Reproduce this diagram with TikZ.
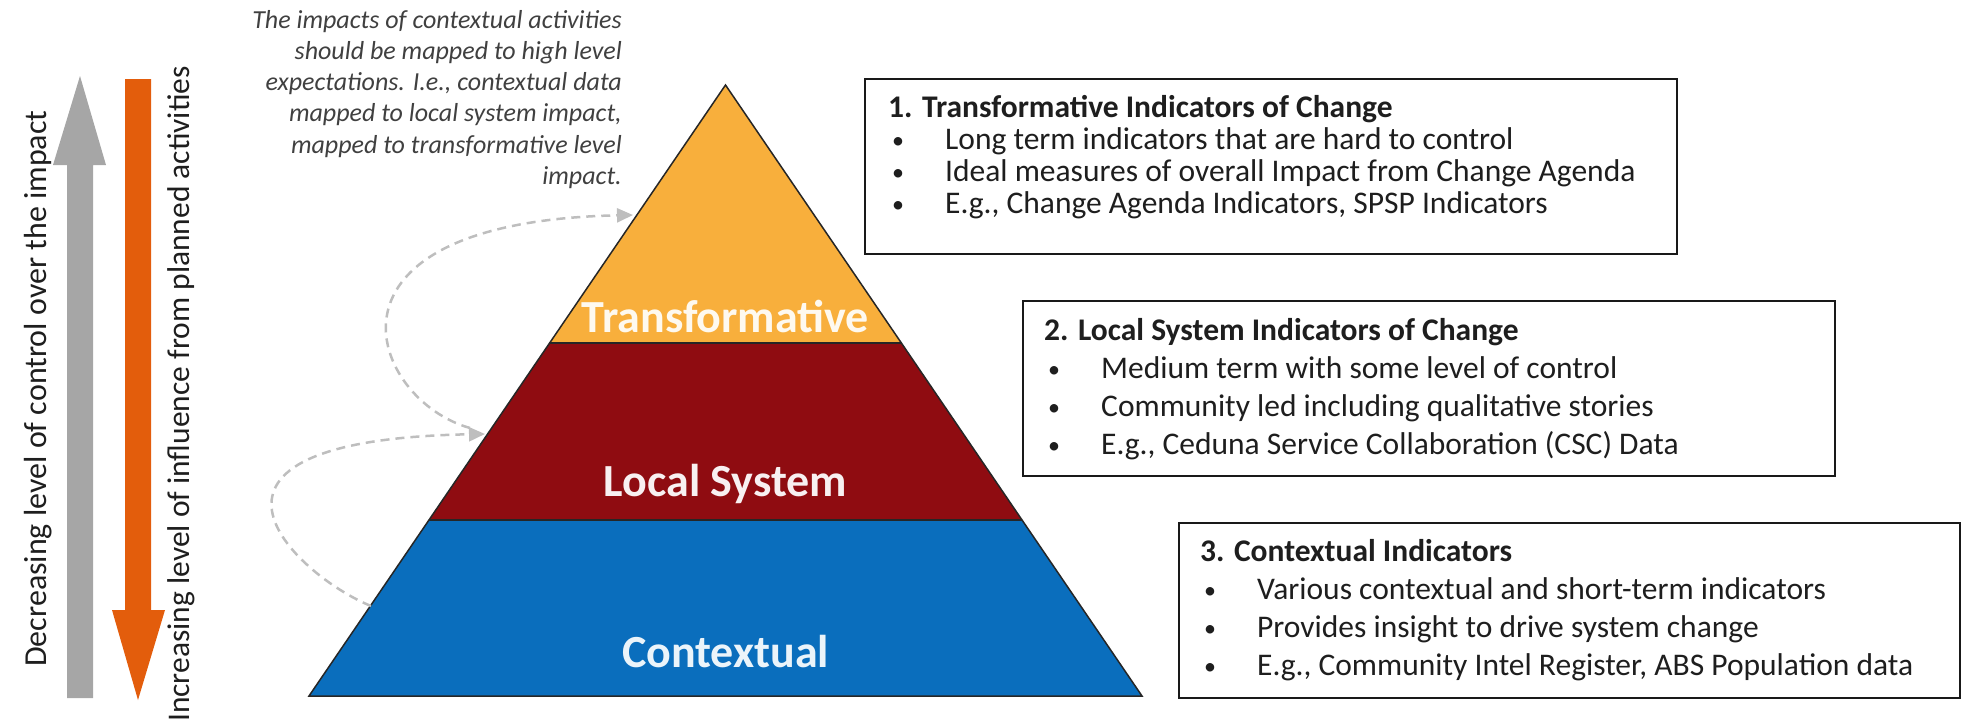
\documentclass[tikz,border=0pt]{standalone}
\usepackage{fontspec}
\setmainfont{Carlito}
\usetikzlibrary{arrows.meta,calc}
\definecolor{cgray}{RGB}{166,166,166}
\definecolor{corange}{RGB}{227,93,12}
\definecolor{ctrans}{RGB}{248,175,60}
\definecolor{clocal}{RGB}{143,12,17}
\definecolor{cctx}{RGB}{10,110,189}
\definecolor{cdash}{RGB}{190,190,190}
\definecolor{ctext}{RGB}{30,30,30}
\definecolor{cnote}{RGB}{64,64,64}
\newcommand{\bul}{\makebox[57pt][l]{\hspace{4pt}{\fontsize{24}{24}\selectfont\raisebox{1pt}{\textbullet}}}}
\begin{document}
\begin{tikzpicture}[x=1pt,y=-1pt,
  pyrtext/.style={font=\fontsize{46}{55}\selectfont\bfseries, inner sep=0pt},
  sidetext/.style={text=ctext, inner sep=0pt, rotate=90, anchor=base west},
  notetext/.style={font=\fontsize{26}{31.2}\selectfont\itshape, text=cnote, inner sep=0pt, align=right},
  ibox/.style={draw=black!90, line width=2pt, fill=white, minimum width=812pt, minimum height=175pt, anchor=north west, inner sep=0pt},
  boxtext/.style={text=ctext, inner sep=0pt, anchor=base west},
  dashconn/.style={draw=cdash, line width=2.5pt, dash pattern=on 9pt off 6pt, -{Triangle[length=16pt,width=14pt,fill=cdash]}},
  pyrline/.style={draw=black!85, line width=1.5pt}
]
\useasboundingbox (0,0) rectangle (1984,726);

% side arrows
\fill[cgray] (67,698) -- (67,165) -- (53,165) -- (80,76) -- (106,165) -- (93,165) -- (93,698) -- cycle;
\fill[corange] (125,79) -- (151,79) -- (151,610) -- (165,610) -- (138,700) -- (112,610) -- (125,610) -- cycle;
\node[sidetext, font=\fontsize{32}{38}\selectfont] (tdec) at (46,667) {Decreasing level of control over the impact};
\node[sidetext, font=\fontsize{31.5}{38}\selectfont] (tinc) at (189,722) {Increasing level of influence from planned activities};

% note
\node[notetext, anchor=north east] (note) at (622,10) {The impacts of contextual activities\\should be mapped to high level\\expectations. I.e., contextual data\\mapped to local system impact,\\mapped to transformative level\\impact.};

% pyramid
\coordinate (apex) at (725.5,85);
\coordinate (bl) at (309,696);
\coordinate (br) at (1142,696);
\coordinate (tl) at ($(apex)!0.4223!(bl)$);
\coordinate (tr) at ($(apex)!0.4223!(br)$);
\coordinate (ml) at ($(apex)!0.7119!(bl)$);
\coordinate (mr) at ($(apex)!0.7119!(br)$);
\fill[ctrans] (apex) -- (tr) -- (tl) -- cycle;
\fill[clocal] (tl) -- (tr) -- (mr) -- (ml) -- cycle;
\fill[cctx] (ml) -- (mr) -- (br) -- (bl) -- cycle;
\draw[pyrline] (tl) -- (tr) (ml) -- (mr);
\draw[pyrline, line join=miter] (apex) -- (br) -- (bl) -- cycle;
\node[pyrtext, text=white!92!ctrans, anchor=base] (ltrans) at (725.5,332) {Transformative};
\node[pyrtext, text=white!94!clocal, anchor=base] (lloc) at (725.5,496) {Local System};
\node[pyrtext, text=white!92!cctx, anchor=base] (lctx) at (725.5,667) {Contextual};

% dashed connectors
\coordinate (c1s) at (470,428);
\coordinate (c1e) at (633,215);
\coordinate (c2s) at (371,606);
\coordinate (c2e) at (485,434);
\draw[dashconn] (c1s) .. controls (370,400) and (300,222) .. (c1e);
\draw[dashconn] (c2s) .. controls (295,575) and (150,440) .. (c2e);

% boxes
\node[ibox] (box1) at (864,78) {};
\node[ibox] (box2) at (1022,300) {};
\node[ibox, minimum width=781pt] (box3) at (1178,522) {};

\node[boxtext, font=\fontsize{31.5}{32}\selectfont] (t1) at ($(box1.north west)+(24,39)$) {%
\begin{tabular}[t]{@{}l@{}l@{}}
\multicolumn{2}{@{}l@{}}{\bfseries 1. Transformative Indicators of Change}\\
\bul & Long term indicators that are hard to control\\
\bul & Ideal measures of overall Impact from Change Agenda\\
\bul & E.g., Change Agenda Indicators, SPSP Indicators
\end{tabular}};
\node[boxtext, font=\fontsize{31.5}{38}\selectfont] (t2) at ($(box2.north west)+(22,40)$) {%
\begin{tabular}[t]{@{}l@{}l@{}}
\multicolumn{2}{@{}l@{}}{\bfseries 2. Local System Indicators of Change}\\
\bul & Medium term with some level of control\\
\bul & Community led including qualitative stories\\
\bul & E.g., Ceduna Service Collaboration (CSC) Data
\end{tabular}};
\node[boxtext, font=\fontsize{31.5}{38}\selectfont] (t3) at ($(box3.north west)+(22,39)$) {%
\begin{tabular}[t]{@{}l@{}l@{}}
\multicolumn{2}{@{}l@{}}{\bfseries 3. Contextual Indicators}\\
\bul & Various contextual and short-term indicators\\
\bul & Provides insight to drive system change\\
\bul & E.g., Community Intel Register, ABS Population data
\end{tabular}};
\end{tikzpicture}
\end{document}
